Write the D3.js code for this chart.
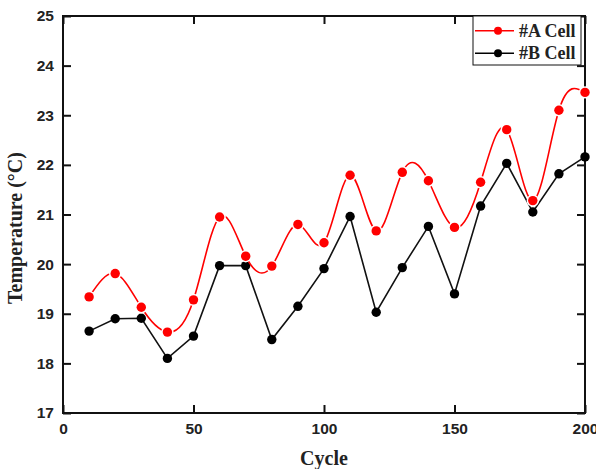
<!DOCTYPE html>
<meta charset="utf-8">
<style>
body { margin: 0; background: #fff; }
.tick text { font-family: "Liberation Sans", Arial, sans-serif; font-weight: bold; font-size: 15.5px; fill: #222; }
.title { font-family: "Liberation Serif", "Times New Roman", serif; font-weight: bold; fill: #222; }
</style>
<svg width="596" height="469"></svg>
<script src="https://d3js.org/d3.v7.min.js"></script>
<script>
// cycle numbers and the two temperature series
var cycles = [10, 20, 30, 40, 50, 60, 70, 80, 90, 100, 110, 120, 130, 140, 150, 160, 170, 180, 190, 200];
var cellA = [19.34, 19.81, 19.13, 18.63, 19.28, 20.95, 20.16, 19.96, 20.80, 20.43, 21.79, 20.67, 21.85, 21.68, 20.74, 21.65, 22.71, 21.28, 23.10, 23.46];
var cellB = [18.65, 18.90, 18.91, 18.10, 18.55, 19.97, 19.97, 18.48, 19.15, 19.91, 20.96, 19.03, 19.93, 20.76, 19.40, 21.17, 22.03, 21.05, 21.82, 22.16];
var xTicks = [0, 50, 100, 150, 200];
var yTicks = [17, 18, 19, 20, 21, 22, 23, 24, 25];
var seriesNames = ["#A Cell", "#B Cell"];

var svg = d3.select("svg"),
    margin = {top: 16, right: 11, bottom: 56, left: 63},
    width = 596 - margin.left - margin.right,
    height = 469 - margin.top - margin.bottom,
    g = svg.append("g").attr("transform", "translate(" + margin.left + "," + margin.top + ")");

var x = d3.scaleLinear().domain([0, 200]).range([0, width]);
var y = d3.scaleLinear().domain([17, 25]).range([height, 0]);

function styleAxis(sel, showText) {
  sel.select(".domain").remove();
  sel.selectAll(".tick line").attr("stroke", "#111").attr("stroke-width", 2);
  if (!showText) sel.selectAll(".tick text").remove();
}

// inward ticks on all four sides
g.append("g").attr("transform", "translate(0," + height + ")")
  .call(d3.axisBottom(x).tickValues(xTicks).tickSizeInner(-8).tickSizeOuter(0).tickPadding(10))
  .call(styleAxis, true);
g.append("g")
  .call(d3.axisTop(x).tickValues(xTicks).tickSizeInner(-8).tickSizeOuter(0))
  .call(styleAxis, false);
g.append("g")
  .call(d3.axisLeft(y).tickValues(yTicks).tickSizeInner(-8).tickSizeOuter(0).tickPadding(9))
  .call(styleAxis, true);
g.append("g").attr("transform", "translate(" + width + ",0)")
  .call(d3.axisRight(y).tickValues(yTicks).tickSizeInner(-8).tickSizeOuter(0))
  .call(styleAxis, false);

g.append("rect")
  .attr("width", width).attr("height", height)
  .attr("fill", "none").attr("stroke", "#111").attr("stroke-width", 2);

var dataA = cycles.map(function(c, i) { return [c, cellA[i]]; });
var dataB = cycles.map(function(c, i) { return [c, cellB[i]]; });

var smooth = d3.line().curve(d3.curveNatural)
    .x(function(d) { return x(d[0]); }).y(function(d) { return y(d[1]); });
var straight = d3.line()
    .x(function(d) { return x(d[0]); }).y(function(d) { return y(d[1]); });

g.append("path").datum(dataB).attr("d", straight)
  .attr("fill", "none").attr("stroke", "#111").attr("stroke-width", 1.6);
g.selectAll(".dotB").data(dataB).enter().append("circle")
  .attr("cx", function(d) { return x(d[0]); })
  .attr("cy", function(d) { return y(d[1]); })
  .attr("r", 4.7).attr("fill", "#000");

g.append("path").datum(dataA).attr("d", smooth)
  .attr("fill", "none").attr("stroke", "#f00").attr("stroke-width", 1.6);
g.selectAll(".dotA").data(dataA).enter().append("circle")
  .attr("cx", function(d) { return x(d[0]); })
  .attr("cy", function(d) { return y(d[1]); })
  .attr("r", 4.7).attr("fill", "#f00")
  .attr("stroke", "#fff").attr("stroke-width", 3).attr("paint-order", "stroke");

// legend
var leg = g.append("g").attr("transform", "translate(" + (473 - margin.left) + ",0)");
leg.append("rect").attr("width", 108).attr("height", 49)
  .attr("fill", "#fff").attr("stroke", "#111").attr("stroke-width", 1);
[["#f00", 14.7], ["#000", 37.3]].forEach(function(s, i) {
  leg.append("line").attr("x1", 2).attr("x2", 41).attr("y1", s[1]).attr("y2", s[1])
    .attr("stroke", s[0]).attr("stroke-width", 1.6);
  leg.append("circle").attr("cx", 25).attr("cy", s[1]).attr("r", 4).attr("fill", s[0]);
  leg.append("text").attr("class", "title").attr("x", 46).attr("y", s[1] + 6)
    .attr("font-size", 18).text(seriesNames[i]);
});

svg.append("text").attr("class", "title")
  .attr("x", margin.left + width / 2).attr("y", 465)
  .attr("text-anchor", "middle").attr("font-size", 20).text("Cycle");
svg.append("text").attr("class", "title")
  .attr("transform", "translate(22,228) rotate(-90)")
  .attr("text-anchor", "middle").attr("font-size", 20).text("Temperature (°C)");
</script>
